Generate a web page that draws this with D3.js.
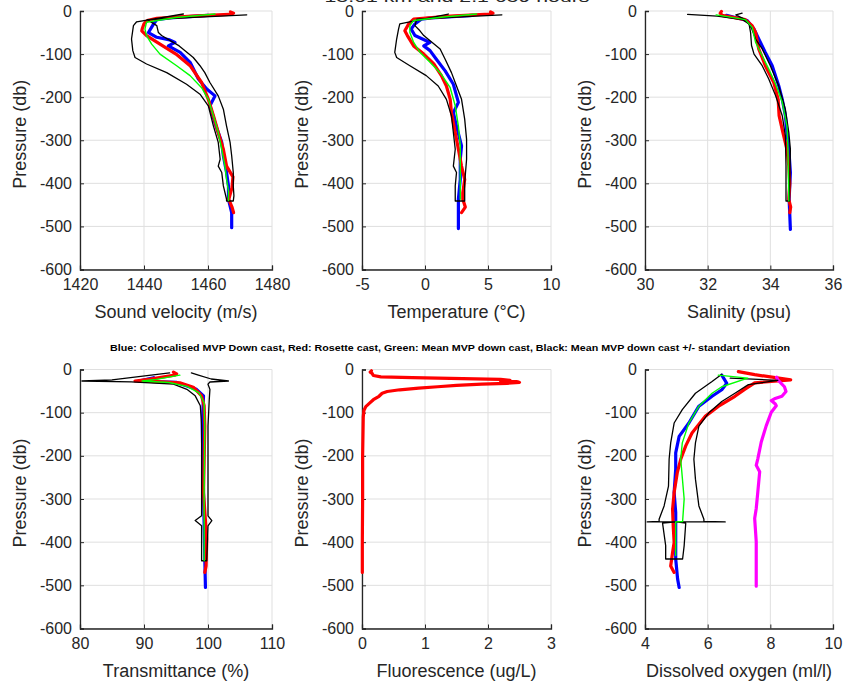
<!DOCTYPE html>
<html><head><meta charset="utf-8">
<script src="https://cdn.jsdelivr.net/npm/d3@7/dist/d3.min.js"></script>
<style>
html,body{margin:0;padding:0;background:#fff;}
svg{display:block;font-family:"Liberation Sans Narrow","Liberation Sans",Arial,sans-serif;}
</style></head>
<body><svg id="c" width="850" height="687"></svg>
<script>
// ---------------- DATA ----------------
const pressureTicks = [0,-100,-200,-300,-400,-500,-600];
const titleText = "13.61 km and 2.1 659 hours";
const captionText = "Blue: Colocalised MVP Down cast, Red: Rosette cast, Green: Mean MVP down cast, Black: Mean MVP down cast +/- standart deviation";

// Sound velocity (m/s) [value, pressure]
const soundBlue = [[1460,-10],[1448,-16],[1444,-20],[1443,-30],[1441.4,-50],[1444,-61],[1448,-67],[1449.7,-73],[1447.6,-81],[1451.3,-96],[1454.4,-119],[1457,-158],[1459.6,-181],[1462.2,-197],[1460.6,-220],[1462.5,-267],[1464.3,-305],[1464.8,-336],[1465.8,-375],[1466.4,-406],[1466.4,-437],[1467.4,-468],[1467.4,-503]];
const soundRed = [[1467,-2],[1468,-5],[1466.5,-8],[1455,-12],[1444,-17],[1441,-22],[1440,-30],[1439.5,-40],[1439.3,-46],[1440.8,-57],[1445,-77],[1450,-100],[1454.4,-127],[1458,-166],[1460.1,-205],[1461.7,-243],[1463.2,-282],[1464.8,-321],[1465.8,-360],[1467.8,-385],[1467.5,-410],[1466.5,-437],[1467.5,-455],[1468,-468]];
const soundGreen = [[1462.2,-7],[1450,-15],[1440.8,-26],[1440.3,-42],[1440.8,-57],[1442.4,-77],[1445,-100],[1450.2,-127],[1454.4,-150],[1458,-178],[1460.1,-205],[1461.7,-243],[1463.2,-282],[1464.3,-321],[1465.3,-360],[1465.8,-391],[1466.4,-418],[1466.4,-440]];
const soundLow = [[1452.3,-7],[1437.7,-25],[1436.7,-34],[1436.1,-65],[1436.5,-92],[1437.2,-108],[1440.8,-123],[1447.1,-143],[1453.3,-170],[1457.5,-193],[1460.1,-220],[1461.7,-267],[1463.2,-305],[1463.8,-344],[1463.2,-360],[1464.3,-375],[1464.8,-406],[1465.8,-437],[1465.8,-441]];
const soundHigh = [[1472.1,-9],[1441,-20],[1444,-34],[1444.5,-50],[1445.5,-57],[1451,-81],[1455.4,-108],[1457.5,-127],[1459,-143],[1460.6,-166],[1463.2,-197],[1464.8,-228],[1465.8,-267],[1466.9,-305],[1467.4,-336],[1467.9,-375],[1467.9,-406],[1468.1,-429],[1467.9,-441]];

// Temperature (°C)
const tempBlue = [[3.8,-10],[0.5,-16],[-0.3,-19],[-0.8,-30],[-1.1,-42],[-0.8,-57],[0.1,-69],[0.4,-73],[-0.1,-81],[0.4,-92],[0.9,-112],[1.6,-139],[2.25,-170],[2.65,-212],[2.25,-236],[2.5,-267],[2.9,-313],[2.8,-344],[2.8,-391],[2.65,-437],[2.65,-468],[2.65,-505]];
const tempRed = [[5.2,-2],[5.4,-5],[5.1,-7],[2,-12],[-0.9,-19],[-1.3,-30],[-1.6,-46],[-1.4,-57],[-0.9,-81],[-0.1,-100],[0.7,-123],[1.3,-150],[1.7,-174],[2.0,-205],[2.1,-236],[2.4,-282],[2.65,-321],[2.9,-360],[3.15,-391],[3.0,-422],[3.0,-437],[3.2,-455],[2.9,-468]];
const tempGreen = [[4.1,-7],[1.5,-14],[-0.9,-22],[-1.2,-34],[-1.2,-50],[-0.9,-73],[-0.4,-96],[0.4,-119],[1.3,-147],[2.0,-178],[2.4,-220],[2.65,-267],[2.8,-313],[2.8,-360],[2.8,-406],[2.8,-437]];
const tempLow = [[1.85,-7],[-2.0,-30],[-2.1,-42],[-2.25,-65],[-2.4,-96],[-2.25,-108],[-1.2,-127],[0.1,-150],[1.05,-174],[1.7,-205],[2.1,-243],[2.25,-282],[2.4,-321],[2.25,-360],[2.5,-375],[2.4,-406],[2.4,-437],[2.4,-441]];
const tempHigh = [[6.1,-9],[-0.65,-19],[-0.8,-34],[-0.4,-46],[-0.1,-57],[1.2,-88],[1.6,-112],[2.1,-143],[2.5,-174],[2.9,-205],[3.15,-251],[3.3,-298],[3.3,-344],[3.15,-398],[3.15,-441]];

// Salinity (psu)
const salBlue = [[32.6,-10],[33.26,-22],[33.48,-42],[33.63,-65],[33.74,-81],[33.84,-96],[34.06,-127],[34.27,-174],[34.38,-205],[34.48,-243],[34.53,-282],[34.59,-321],[34.64,-375],[34.6,-437],[34.64,-507]];
const salRed = [[32.44,-1],[32.4,-5],[32.46,-10],[33.2,-20],[33.42,-34],[33.53,-50],[33.63,-88],[33.84,-127],[34.11,-166],[34.25,-205],[34.28,-243],[34.4,-282],[34.53,-321],[34.59,-360],[34.62,-400],[34.59,-437],[34.65,-455],[34.62,-468]];
const salGreen = [[32.27,-9],[33.2,-20],[33.42,-38],[33.53,-73],[33.74,-104],[33.95,-135],[34.17,-170],[34.38,-212],[34.53,-267],[34.56,-313],[34.59,-441]];
const salLow = [[31.36,-8],[32.3,-12],[33.11,-20],[33.32,-30],[33.37,-50],[33.4,-80],[33.48,-100],[33.74,-127],[33.95,-158],[34.17,-197],[34.38,-243],[34.48,-290],[34.5,-360],[34.5,-441]];
const salHigh = [[33.1,-5],[32.9,-9],[33.2,-20],[33.37,-34],[33.53,-65],[33.74,-88],[34.0,-127],[34.27,-174],[34.48,-228],[34.59,-282],[34.64,-321],[34.61,-441]];

// Transmittance (%)
const trBlue = [[91.5,-19],[89.2,-26.6],[95.1,-30],[98.2,-46],[99.3,-61],[99.1,-131],[99.2,-208],[99.3,-285],[99.4,-362],[99.5,-439],[99.6,-505]];
const trRed = [[94.6,-6],[95.1,-10],[94.8,-13],[91,-22],[88.6,-26.6],[92,-28],[95.6,-31],[97.7,-41],[99.0,-61],[99.4,-84],[99.5,-131],[99.4,-208],[99.3,-285],[99.8,-393],[99.7,-455],[99.5,-470]];
const trGreen = [[95.6,-13],[91.9,-23],[89.7,-26.6],[93.9,-30],[96.7,-39],[98.6,-54],[99.4,-77],[99.5,-131],[99.4,-285],[99.4,-443]];
const trLow = [[94,-8],[85,-24],[80.3,-26.6],[88,-28.5],[94.6,-34],[96.7,-46],[98,-61],[98.8,-84],[99.0,-131],[99.0,-208],[99.0,-339],[98,-350],[99.0,-362],[99.0,-443]];
const trHigh = [[97.4,-8],[98.5,-13],[100.5,-22],[103.2,-26.6],[100.3,-29],[100,-34],[100.3,-46],[100.2,-69],[100.0,-131],[100,-339],[100.6,-350],[100,-362],[99.8,-443]];

// Fluorescence (ug/L)
const fluoRed = [[0.15,-3],[0.13,-6],[0.16,-9],[0.18,-14],[0.3,-17],[0.8,-19],[1.6,-21],[2.2,-23],[2.35,-25],[2.2,-27],[2.45,-28],[2.5,-30],[2.3,-32],[1.9,-34],[1.5,-37],[1.2,-40],[0.9,-43],[0.6,-47],[0.4,-51],[0.32,-55],[0.27,-62],[0.18,-70],[0.12,-78],[0.06,-86],[0.03,-95],[0.02,-110],[0.01,-200],[0.01,-300],[0.005,-400],[0.005,-470]];

// Dissolved oxygen (ml/l)
const oxyBlue = [[6.45,-13],[6.61,-32],[6.45,-47],[6.14,-62],[5.72,-85],[5.4,-124],[5.09,-155],[4.98,-193],[4.98,-231],[4.93,-285],[4.98,-331],[4.98,-439],[5.04,-485],[5.09,-505]];
const oxyRed = [[6.98,-5],[7.5,-12],[8.65,-24],[7.5,-31],[7.18,-46],[6.87,-62],[6.35,-85],[5.93,-108],[5.5,-147],[5.3,-177],[5.14,-208],[5.03,-239],[4.93,-285],[4.88,-324],[4.9,-362],[4.93,-401],[4.88,-424],[4.82,-455],[4.93,-470]];
const oxyGreen = [[6.34,-13],[7.28,-20],[6.45,-40],[6.14,-55],[5.72,-85],[5.4,-124],[5.19,-170],[5.14,-208],[5.25,-300],[5.2,-352],[4.98,-353],[4.98,-431]];
const oxyLow = [[6.45,-11],[6.14,-28],[5.61,-55],[5.19,-93],[4.93,-124],[4.82,-170],[4.77,-208],[4.75,-270],[4.61,-316],[4.45,-347],[4.45,-352],[4.07,-353],[5.0,-353],[4.56,-356],[4.66,-408],[4.66,-439]];
const oxyHigh = [[6.72,-20],[8.24,-25],[7.3,-35],[6.87,-55],[6.45,-74],[6.03,-101],[5.72,-131],[5.61,-170],[5.56,-208],[5.61,-254],[5.72,-316],[5.88,-347],[5.88,-352],[6.56,-353],[5.0,-353],[5.3,-356],[5.25,-408],[5.2,-439]];
const oxyMagenta = [[8.2,-18],[8.24,-24],[8.45,-40],[8.5,-51],[8.37,-62],[8.13,-68],[8.03,-72],[8.16,-80],[8.19,-84],[8.03,-99],[7.87,-130],[7.71,-168],[7.6,-207],[7.55,-222],[7.66,-237],[7.6,-284],[7.55,-322],[7.5,-345],[7.55,-399],[7.55,-437],[7.55,-502]];

const xTicksSound = [1420,1440,1460,1480];
const xTicksTemp = [-5,0,5,10];
const xTicksSal = [30,32,34,36];
const xTicksTr = [80,90,100,110];
const xTicksFluo = [0,1,2,3];
const xTicksOxy = [4,6,8,10];

// --------------- DRAW ----------------
const svg = d3.select("#c");
const cols = [[80,272],[362,551],[645,833]];
const rows = [[11,269.5],[369.5,628.5]];

const panels = [
 {c:0,r:0,ticks:xTicksSound,label:"Sound velocity (m/s)",blue:soundBlue,red:soundRed,green:soundGreen,low:soundLow,high:soundHigh},
 {c:1,r:0,ticks:xTicksTemp,label:"Temperature (°C)",blue:tempBlue,red:tempRed,green:tempGreen,low:tempLow,high:tempHigh},
 {c:2,r:0,ticks:xTicksSal,label:"Salinity (psu)",blue:salBlue,red:salRed,green:salGreen,low:salLow,high:salHigh},
 {c:0,r:1,ticks:xTicksTr,label:"Transmittance (%)",blue:trBlue,red:trRed,green:trGreen,low:trLow,high:trHigh},
 {c:1,r:1,ticks:xTicksFluo,label:"Fluorescence (ug/L)",red:fluoRed},
 {c:2,r:1,ticks:xTicksOxy,label:"Dissolved oxygen (ml/l)",blue:oxyBlue,red:oxyRed,green:oxyGreen,low:oxyLow,high:oxyHigh,magenta:oxyMagenta}
];

panels.forEach(P=>{
  const [x0,x1]=cols[P.c], [y0,y1]=rows[P.r];
  const x=d3.scaleLinear().domain([P.ticks[0],P.ticks[P.ticks.length-1]]).range([x0,x1]);
  const y=d3.scaleLinear().domain([0,-600]).range([y0,y1]);
  const g=svg.append("g");
  // grid
  g.append("g").selectAll("line").data(P.ticks).join("line")
    .attr("x1",d=>x(d)).attr("x2",d=>x(d)).attr("y1",y0).attr("y2",y1)
    .attr("stroke","#dfdfdf").attr("stroke-width",1);
  g.append("g").selectAll("line").data(pressureTicks).join("line")
    .attr("x1",x0).attr("x2",x1).attr("y1",d=>y(d)).attr("y2",d=>y(d))
    .attr("stroke","#dfdfdf").attr("stroke-width",1);
  // axes
  const ax=g.append("g").attr("transform",`translate(0,${y1})`)
    .call(d3.axisBottom(x).tickValues(P.ticks).tickSize(-4).tickPadding(9).tickFormat(d3.format("d")));
  const ay=g.append("g").attr("transform",`translate(${x0},0)`)
    .call(d3.axisLeft(y).tickValues(pressureTicks).tickSize(-4).tickPadding(8).tickFormat(d3.format("d")));
  [ax,ay].forEach(a=>{
    a.select(".domain").attr("stroke","#262626").attr("stroke-width",1.3);
    a.selectAll(".tick line").attr("stroke","#262626");
    a.selectAll("text").attr("font-size",16).attr("fill","#262626")
      .attr("font-family",'"Liberation Sans Narrow","Liberation Sans",Arial,sans-serif');
  });
  ax.selectAll("text").text(d=>String(d));
  ay.selectAll("text").text(d=>String(d));
  // axis labels
  g.append("text").attr("x",(x0+x1)/2).attr("y",y1+48).attr("text-anchor","middle")
    .attr("font-size",18).attr("fill","#262626").text(P.label);
  g.append("text").attr("transform",`translate(${x0-54},${(y0+y1)/2-6}) rotate(-90)`)
    .attr("text-anchor","middle").attr("font-size",18).attr("fill","#262626").text("Pressure (db)");
  // curves
  const line=d3.line().x(d=>x(d[0])).y(d=>y(d[1]));
  const clipId="clip"+P.c+P.r;
  svg.append("clipPath").attr("id",clipId).append("rect").attr("x",x0-2).attr("y",y0-12).attr("width",x1-x0+4).attr("height",y1-y0+12);
  const cg=g.append("g").attr("clip-path",`url(#${clipId})`).attr("fill","none")
    .attr("stroke-linejoin","round").attr("stroke-linecap","round");
  if(P.blue) cg.append("path").attr("d",line(P.blue)).attr("stroke","#0000ff").attr("stroke-width",3.2);
  if(P.red) cg.append("path").attr("d",line(P.red)).attr("stroke","#ff0000").attr("stroke-width",3.2);
  if(P.magenta) cg.append("path").attr("d",line(P.magenta)).attr("stroke","#ff00ff").attr("stroke-width",3.2);
  if(P.low) cg.append("path").attr("d",line(P.low.concat(P.high.slice().reverse())))
      .attr("stroke","#000").attr("stroke-width",1.3);
  if(P.green) cg.append("path").attr("d",line(P.green)).attr("stroke","#00ff00").attr("stroke-width",1.4);
});

// caption and title
svg.append("text").attr("x",450).attr("y",351).attr("text-anchor","middle")
  .attr("font-size",9.5).attr("font-weight","bold").attr("fill","#000")
  .attr("font-family","Liberation Sans, Arial, sans-serif")
  .attr("textLength",680).attr("lengthAdjust","spacingAndGlyphs").text(captionText);
svg.append("text").attr("x",457).attr("y",2).attr("text-anchor","middle")
  .attr("font-size",15).attr("fill","#262626")
  .attr("textLength",265).attr("lengthAdjust","spacingAndGlyphs").text(titleText);
</script></body></html>
